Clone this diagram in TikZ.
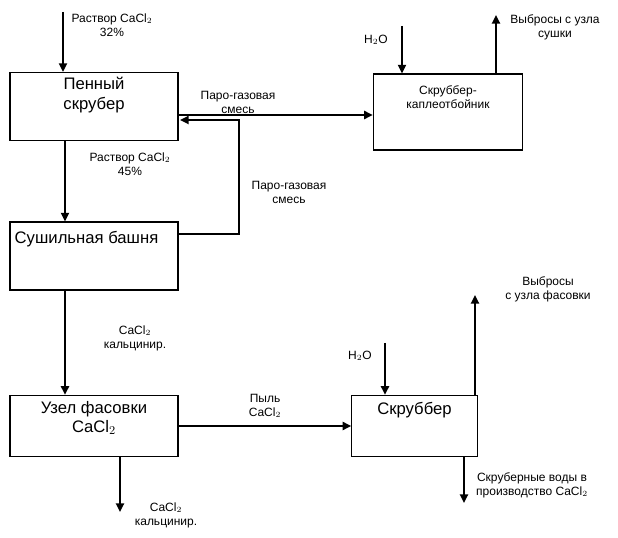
\documentclass[tikz,border=0pt]{standalone}
\usepackage{fontspec}
\setmainfont{Liberation Sans}
\usetikzlibrary{arrows.meta}
\begin{document}
\begin{tikzpicture}[x=0.75pt,y=-0.75pt,>={Triangle[length=6.5pt,width=6pt]},
    box/.style={draw,thick,minimum width=126pt,minimum height=51pt,inner sep=0pt},
    big/.style={font=\fontsize{12.5}{14.5}\selectfont,align=center},
    flow/.style={->,line width=2.2pt},
    lbl/.style={font=\fontsize{9}{10.5}\selectfont,align=center,inner sep=0pt}]

    \useasboundingbox (0,0) rectangle (618,538);

    % blocks
    \node[box] (foam) at (94,106.5) {};
    \node[big] at (94,95) {Пенный\\скрубер};
    \node[box] (dryer) at (94,256) {};
    \node[big,anchor=west] at (10,239) {Сушильная башня};
    \node[box,minimum width=112pt,minimum height=57pt] (drop) at (448,112) {};
    \node[lbl] at (448,97) {Скруббер-\\каплеотбойник};
    \node[box,minimum height=46pt] (pack) at (94,426) {};
    \node[big] at (94,418) {Узел фасовки\\CaCl$_2$};
    \node[box,minimum width=94pt,minimum height=46pt] (scrub) at (414.5,426) {};
    \node[big] at (414.5,410) {Скруббер};

    % free ends
    \coordinate (in1) at (63,12);
    \coordinate (h2oA) at (402,26);
    \coordinate (outA) at (496,15);
    \coordinate (h2oB) at (385,343);
    \coordinate (outB) at (475,295);
    \coordinate (water) at (464,503);
    \coordinate (prod) at (120,512);
    \coordinate (bend) at (239,234);
    \coordinate (down1) at (65,141);
    \coordinate (down2) at (65,290);

    % flows
    \draw[flow] (in1) -- (in1 |- foam.north);
    \draw[flow] (foam.east |- 0,115) -- (drop.west |- 0,115);
    \draw[flow] (down1) -- (down1 |- dryer.north);
    \draw[flow] (dryer.east |- bend) -- (bend) -- (239,120) -- (180,120);
    \draw[flow] (down2) -- (down2 |- pack.north);
    \draw[flow] (pack.east) -- (scrub.west);
    \draw[flow] (h2oA) -- (h2oA |- drop.north);
    \draw[flow] (outA |- drop.north) -- (outA);
    \draw[flow] (h2oB) -- (h2oB |- scrub.north);
    \draw[flow] (outB |- scrub.north) -- (outB);
    \draw[flow] (water |- scrub.south) -- (water);
    \draw[flow] (prod |- pack.south) -- (prod);

    % labels
    \node[lbl] at (112,25) {Раствор CaCl$_2$\\32\%};
    \node[lbl] at (238,102) {Паро-газовая\\смесь};
    \node[lbl] at (130,164) {Раствор CaCl$_2$\\45\%};
    \node[lbl] at (289,192) {Паро-газовая\\смесь};
    \node[lbl] at (135,338) {CaCl$_2$\\кальцинир.};
    \node[lbl] at (265,406) {Пыль\\CaCl$_2$};
    \node[lbl] at (376,40) {H$_2$O};
    \node[lbl] at (360,356) {H$_2$O};
    \node[lbl] at (555,27) {Выбросы с узла\\сушки};
    \node[lbl] at (548,289) {Выбросы\\с узла фасовки};
    \node[lbl] at (532,485) {Скруберные воды в\\производство CaCl$_2$};
    \node[lbl] at (166,515) {CaCl$_2$\\кальцинир.};
\end{tikzpicture}
\end{document}
